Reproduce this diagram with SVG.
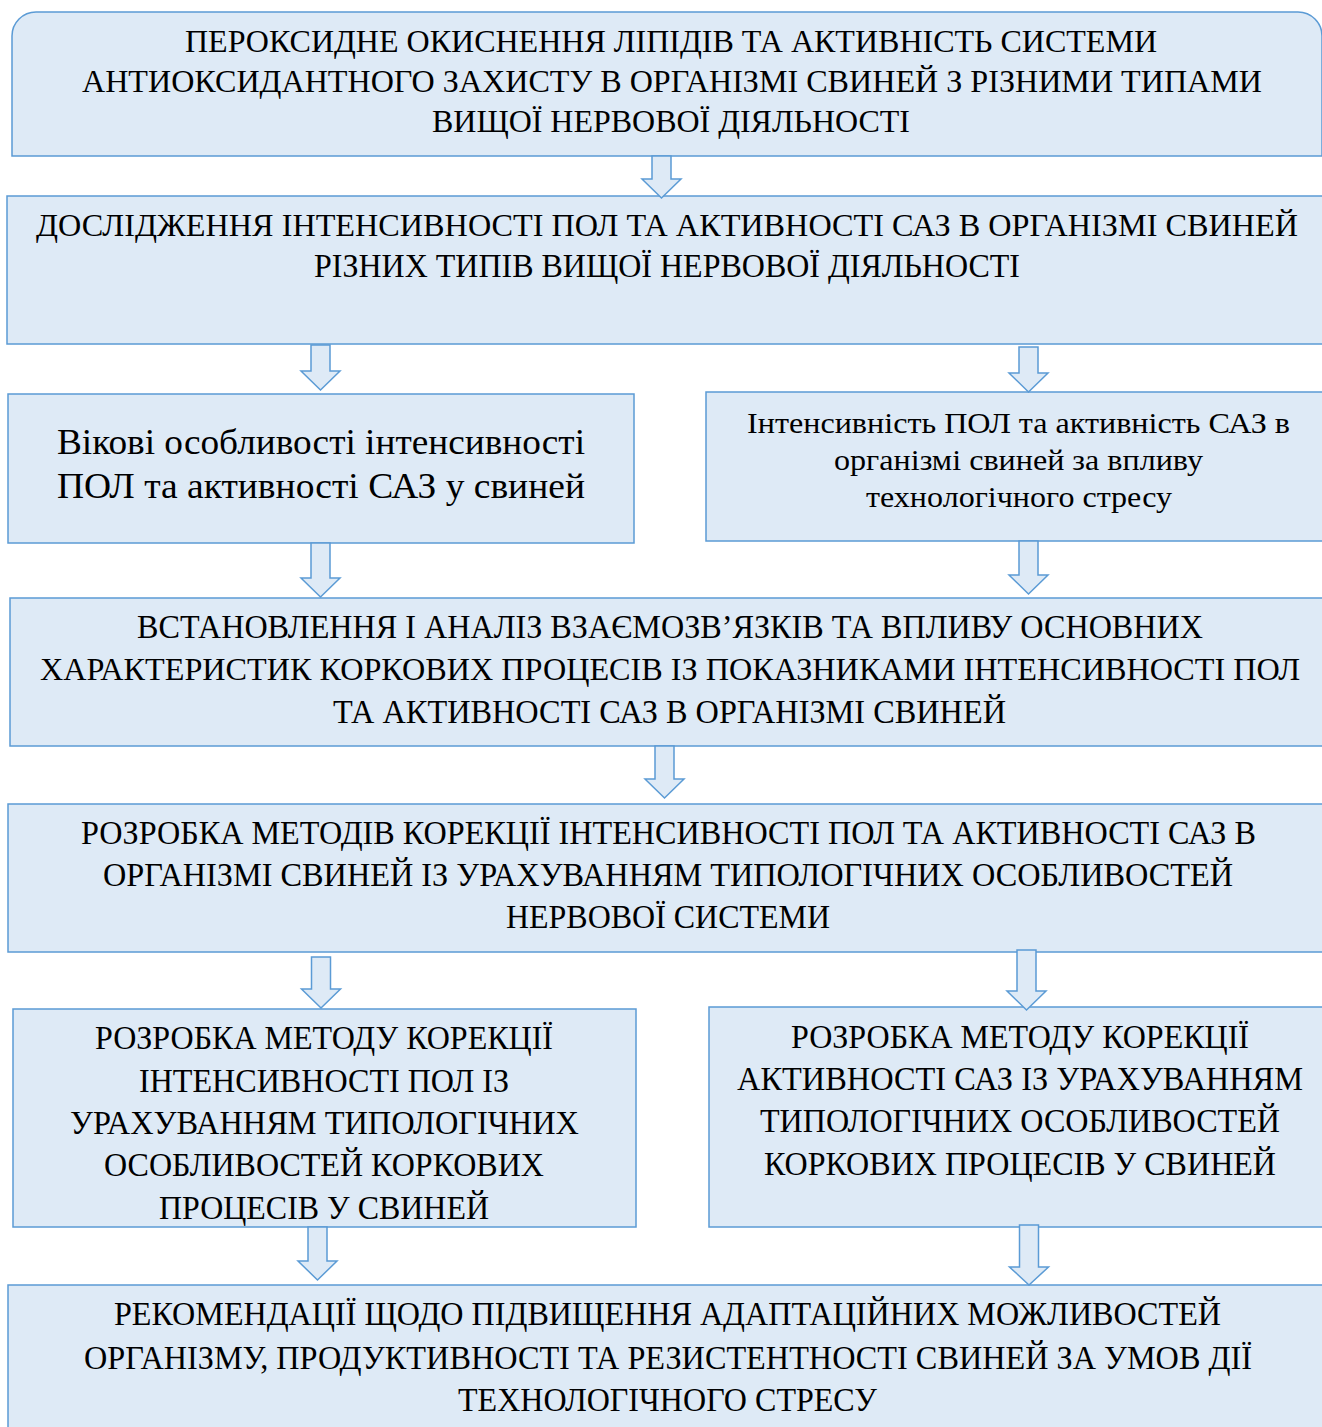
<svg xmlns="http://www.w3.org/2000/svg" width="1322" height="1427" viewBox="0 0 1322 1427">
<style>
.box{fill:#DEEAF6;stroke:#5B9BD5;stroke-width:1.5}
.arr{fill:#DEEAF6;stroke:#5B9BD5;stroke-width:1.5;stroke-linejoin:miter}
text{font-family:"Liberation Serif","Times New Roman","DejaVu Serif",serif;fill:#000;text-anchor:middle}
.t1{font-size:32px}
.t2{font-size:33px}
.tl{font-size:31px}
.t3{font-size:35px}
.t4{font-size:29px}
</style>
<rect width="1322" height="1427" fill="#FFFFFF"/>
<g id="n1">
<path class="box" d="M12,156 V36 A24,24 0 0 1 36,12 H1298 A24,24 0 0 1 1322,36 V156 Z"/>
<text class="t1" x="671" y="52" textLength="972" lengthAdjust="spacingAndGlyphs">ПЕРОКСИДНЕ ОКИСНЕННЯ ЛІПІДІВ ТА АКТИВНІСТЬ СИСТЕМИ</text>
<text class="t1" x="672" y="92" textLength="1180" lengthAdjust="spacingAndGlyphs">АНТИОКСИДАНТНОГО ЗАХИСТУ В ОРГАНІЗМІ СВИНЕЙ З РІЗНИМИ ТИПАМИ</text>
<text class="t1" x="671" y="132" textLength="478" lengthAdjust="spacingAndGlyphs">ВИЩОЇ НЕРВОВОЇ ДІЯЛЬНОСТІ</text>
</g>
<g id="n2">
<rect class="box" x="7" y="196" width="1318" height="148"/>
<text class="tl" x="667" y="236" textLength="1262" lengthAdjust="spacingAndGlyphs">ДОСЛІДЖЕННЯ ІНТЕНСИВНОСТІ ПОЛ ТА АКТИВНОСТІ САЗ В ОРГАНІЗМІ СВИНЕЙ</text>
<text class="t2" x="667" y="277" textLength="706" lengthAdjust="spacingAndGlyphs">РІЗНИХ ТИПІВ ВИЩОЇ НЕРВОВОЇ ДІЯЛЬНОСТІ</text>
</g>
<g id="n3">
<rect class="box" x="8" y="394" width="626" height="149"/>
<text class="t3" x="321" y="454" textLength="528" lengthAdjust="spacingAndGlyphs">Вікові особливості інтенсивності</text>
<text class="t3" x="321" y="498" textLength="528" lengthAdjust="spacingAndGlyphs">ПОЛ та активності САЗ у свиней</text>
</g>
<g id="n4">
<rect class="box" x="706" y="392" width="619" height="149"/>
<text class="t4" x="1018.5" y="433" textLength="543" lengthAdjust="spacingAndGlyphs">Інтенсивність ПОЛ та активність САЗ в</text>
<text class="t4" x="1018.5" y="470" textLength="369" lengthAdjust="spacingAndGlyphs">організмі свиней за впливу</text>
<text class="t4" x="1019" y="507" textLength="306" lengthAdjust="spacingAndGlyphs">технологічного стресу</text>
</g>
<g id="n5">
<rect class="box" x="10" y="598" width="1315" height="148"/>
<text class="t2" x="670" y="638" textLength="1066" lengthAdjust="spacingAndGlyphs">ВСТАНОВЛЕННЯ І АНАЛІЗ ВЗАЄМОЗВ’ЯЗКІВ ТА ВПЛИВУ ОСНОВНИХ</text>
<text class="tl" x="670" y="680" textLength="1260" lengthAdjust="spacingAndGlyphs">ХАРАКТЕРИСТИК КОРКОВИХ ПРОЦЕСІВ ІЗ ПОКАЗНИКАМИ ІНТЕНСИВНОСТІ ПОЛ</text>
<text class="t2" x="669.5" y="723" textLength="673" lengthAdjust="spacingAndGlyphs">ТА АКТИВНОСТІ САЗ В ОРГАНІЗМІ СВИНЕЙ</text>
</g>
<g id="n6">
<rect class="box" x="8" y="804" width="1317" height="148"/>
<text class="t2" x="668.5" y="844" textLength="1175" lengthAdjust="spacingAndGlyphs">РОЗРОБКА МЕТОДІВ КОРЕКЦІЇ ІНТЕНСИВНОСТІ ПОЛ ТА АКТИВНОСТІ САЗ В</text>
<text class="t2" x="668" y="886" textLength="1130" lengthAdjust="spacingAndGlyphs">ОРГАНІЗМІ СВИНЕЙ ІЗ УРАХУВАННЯМ ТИПОЛОГІЧНИХ ОСОБЛИВОСТЕЙ</text>
<text class="t2" x="668" y="928" textLength="324" lengthAdjust="spacingAndGlyphs">НЕРВОВОЇ СИСТЕМИ</text>
</g>
<g id="n7">
<rect class="box" x="13" y="1009" width="623" height="218"/>
<text class="t2" x="324" y="1049" textLength="458" lengthAdjust="spacingAndGlyphs">РОЗРОБКА МЕТОДУ КОРЕКЦІЇ</text>
<text class="t2" x="324" y="1092" textLength="370" lengthAdjust="spacingAndGlyphs">ІНТЕНСИВНОСТІ ПОЛ ІЗ</text>
<text class="t2" x="324.5" y="1134" textLength="509" lengthAdjust="spacingAndGlyphs">УРАХУВАННЯМ ТИПОЛОГІЧНИХ</text>
<text class="t2" x="324" y="1176" textLength="440" lengthAdjust="spacingAndGlyphs">ОСОБЛИВОСТЕЙ КОРКОВИХ</text>
<text class="t2" x="324" y="1219" textLength="330" lengthAdjust="spacingAndGlyphs">ПРОЦЕСІВ У СВИНЕЙ</text>
</g>
<g id="n8">
<rect class="box" x="709" y="1007" width="616" height="220"/>
<text class="t2" x="1020" y="1048" textLength="458" lengthAdjust="spacingAndGlyphs">РОЗРОБКА МЕТОДУ КОРЕКЦІЇ</text>
<text class="t2" x="1020" y="1090" textLength="566" lengthAdjust="spacingAndGlyphs">АКТИВНОСТІ САЗ ІЗ УРАХУВАННЯМ</text>
<text class="t2" x="1020" y="1132" textLength="520" lengthAdjust="spacingAndGlyphs">ТИПОЛОГІЧНИХ ОСОБЛИВОСТЕЙ</text>
<text class="t2" x="1020" y="1175" textLength="512" lengthAdjust="spacingAndGlyphs">КОРКОВИХ ПРОЦЕСІВ У СВИНЕЙ</text>
</g>
<g id="n9">
<rect class="box" x="8" y="1285" width="1317" height="150"/>
<text class="t2" x="667.5" y="1325" textLength="1107" lengthAdjust="spacingAndGlyphs">РЕКОМЕНДАЦІЇ ЩОДО ПІДВИЩЕННЯ АДАПТАЦІЙНИХ МОЖЛИВОСТЕЙ</text>
<text class="t2" x="668" y="1369" textLength="1168" lengthAdjust="spacingAndGlyphs">ОРГАНІЗМУ, ПРОДУКТИВНОСТІ ТА РЕЗИСТЕНТНОСТІ СВИНЕЙ ЗА УМОВ ДІЇ</text>
<text class="t2" x="667.5" y="1411" textLength="419" lengthAdjust="spacingAndGlyphs">ТЕХНОЛОГІЧНОГО СТРЕСУ</text>
</g>
<g id="connectors">
<polygon class="arr" points="652,156 671,156 671,179 681,179 661.5,198 642,179 652,179"/>
<polygon class="arr" points="311,345 330,345 330,371 340,371 320.5,390 301,371 311,371"/>
<polygon class="arr" points="1019,347 1038,347 1038,373 1048,373 1028.5,392 1009,373 1019,373"/>
<polygon class="arr" points="311,543 330,543 330,578 340,578 320.5,597 301,578 311,578"/>
<polygon class="arr" points="1019,541 1038,541 1038,575 1048,575 1028.5,594 1009,575 1019,575"/>
<polygon class="arr" points="655,746 674,746 674,779 684,779 664.5,798 645,779 655,779"/>
<polygon class="arr" points="311.5,957 330.5,957 330.5,989 340.5,989 321,1008 301.5,989 311.5,989"/>
<polygon class="arr" points="1017,950 1036,950 1036,991 1046,991 1026.5,1010 1007,991 1017,991"/>
<polygon class="arr" points="308,1227 327,1227 327,1261 337,1261 317.5,1280 298,1261 308,1261"/>
<polygon class="arr" points="1019.5,1225 1038.5,1225 1038.5,1267 1048.5,1267 1029,1285 1009.5,1267 1019.5,1267"/>
</g>
</svg>
